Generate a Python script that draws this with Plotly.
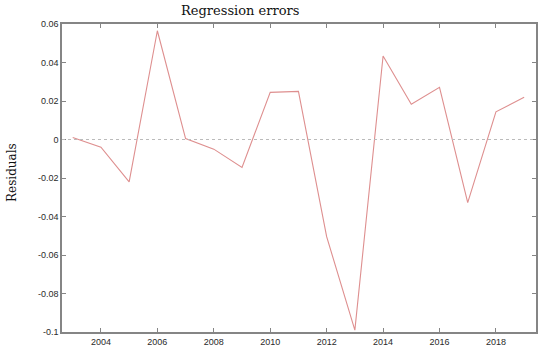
import plotly.graph_objects as go

years = list(range(2003, 2020))
residuals = [0.001, -0.004, -0.022, 0.0565, 0.0005, -0.005, -0.0145, 0.0245, 0.025,
             -0.0505, -0.099, 0.0434, 0.0183, 0.0271, -0.0328, 0.0144, 0.0219]
x_ticks = [2004, 2006, 2008, 2010, 2012, 2014, 2016, 2018]
y_ticks = [-0.1, -0.08, -0.06, -0.04, -0.02, 0, 0.02, 0.04, 0.06]
y_tick_text = ["-0.1", "-0.08", "-0.06", "-0.04", "-0.02", "0", "0.02", "0.04", "0.06"]

L, R, T, B = 62, 14, 24, 22
W, H = 550, 354
pw = W - L - R
ph = H - T - B

fig = go.Figure()
fig.add_trace(go.Scatter(x=years, y=residuals, mode="lines",
                         line=dict(color="#de8f8f", width=1.1), showlegend=False))
fig.add_hline(y=0, line=dict(color="#bbbbbb", width=1, dash="dot"))

axis_common = dict(showgrid=False, zeroline=False, showline=True, mirror="ticks",
                   linecolor="#858585", linewidth=1.5, ticks="inside", ticklen=4,
                   tickcolor="#858585", automargin=False,
                   tickfont=dict(family="Liberation Sans", size=9, color="#2a2a2a"))
fig.update_xaxes(range=[2002.62, 2019.42], tickvals=x_ticks, **axis_common)
fig.update_yaxes(range=[-0.1, 0.06], tickvals=y_ticks, ticktext=y_tick_text, **axis_common)

fig.update_layout(
    width=W, height=H,
    margin=dict(l=L, r=R, t=T, b=B, autoexpand=False),
    plot_bgcolor="white", paper_bgcolor="white",
)
fig.add_annotation(text="Regression errors", x=(240 - L) / pw, y=(H - B - 10) / ph,
                   xref="paper", yref="paper", showarrow=False,
                   xanchor="center", yanchor="middle",
                   font=dict(family="DejaVu Serif", size=13, color="#111111"))
fig.add_annotation(text="Residuals", x=(12 - L) / pw, y=(H - B - 173) / ph,
                   xref="paper", yref="paper", showarrow=False, textangle=-90,
                   xanchor="center", yanchor="middle",
                   font=dict(family="DejaVu Serif", size=12, color="#111111"))

fig.write_html("out.html", config={"displayModeBar": False},
               post_script="document.body.style.margin='0';document.body.style.overflow='hidden';")
